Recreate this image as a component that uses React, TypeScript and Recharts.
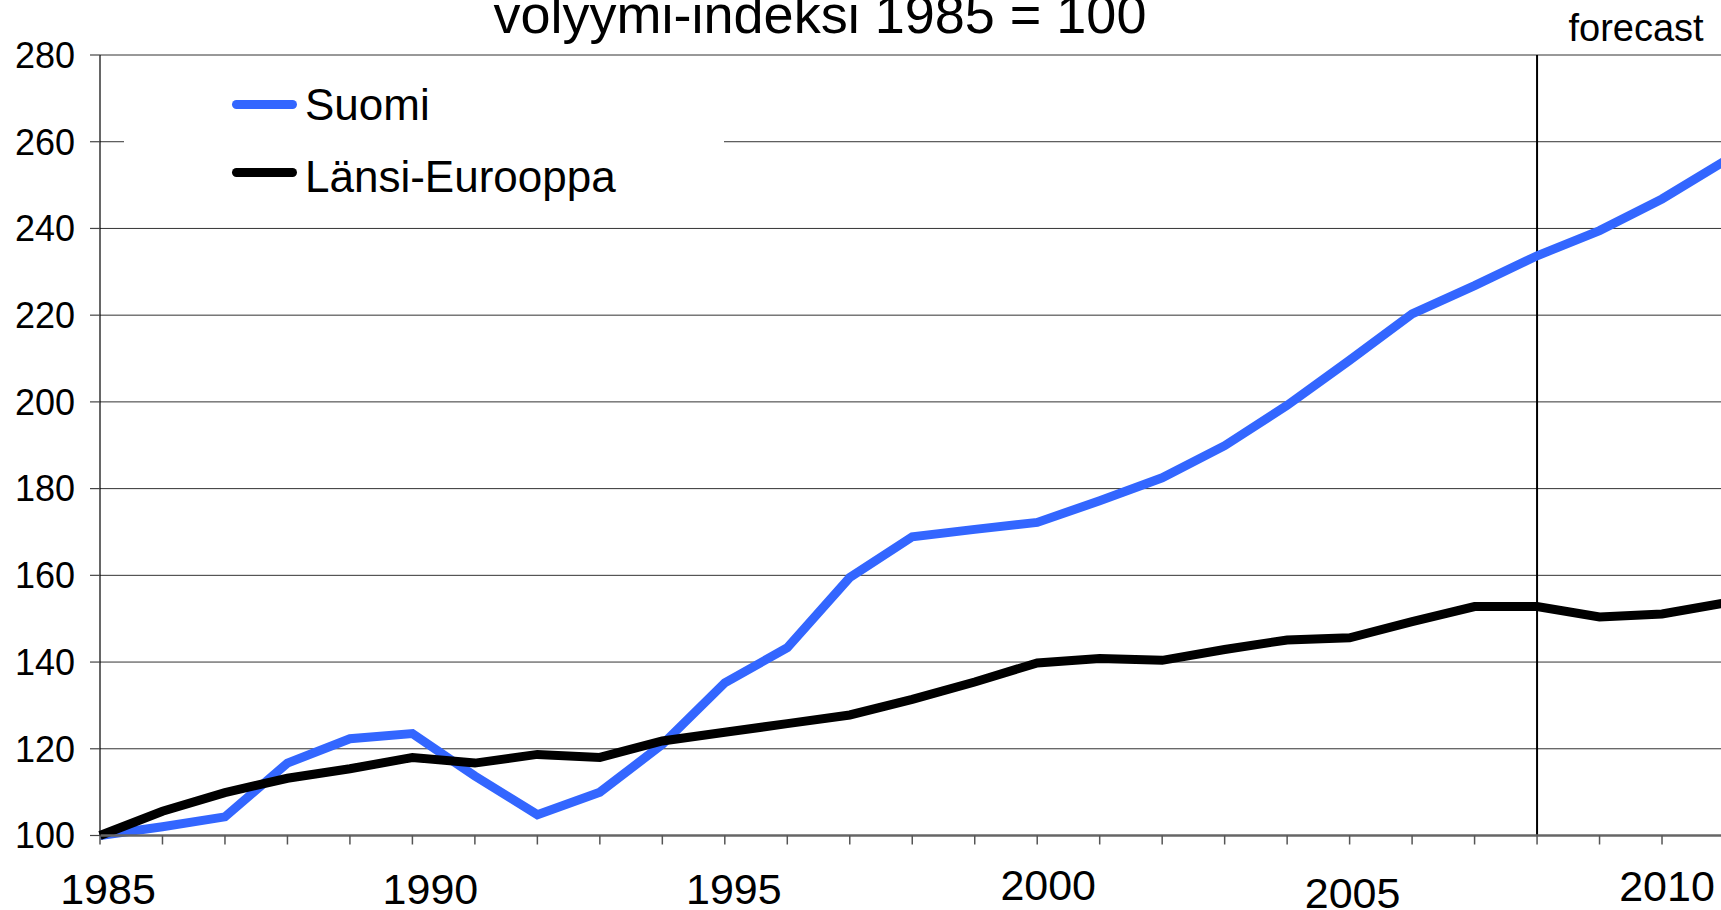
import React from 'react'
import {
  LineChart,
  Line,
  XAxis,
  YAxis,
  CartesianGrid,
  ReferenceLine,
  Legend,
} from 'recharts'

const years = [
  1985, 1986, 1987, 1988, 1989, 1990, 1991, 1992, 1993, 1994, 1995, 1996, 1997, 1998,
  1999, 2000, 2001, 2002, 2003, 2004, 2005, 2006, 2007, 2008, 2009, 2010, 2011,
]

const suomi = [
  100, 102, 104.3, 116.7, 122.3, 123.5, 113.7, 104.8, 110, 121, 135.2, 143.3, 159.5, 168.9,
  170.6, 172.2, 177.2, 182.5, 189.9, 199.2, 209.6, 220.3, 226.8, 233.7, 239.5, 246.8, 255.5,
]

const lansiEurooppa = [
  100, 105.6, 109.9, 113.2, 115.4, 118, 116.7, 118.7, 118, 121.8, 123.8, 125.8, 127.8, 131.4,
  135.4, 139.8, 140.8, 140.4, 142.9, 145.1, 145.6, 149.3, 152.8, 152.8, 150.4, 151.1, 153.6,
]

const yTicks = [100, 120, 140, 160, 180, 200, 220, 240, 260, 280]
const labelYears = [1985, 1990, 1995, 2000, 2005, 2010]
const forecastYear = 2008
const seriesOrder = ['Suomi', 'Länsi-Eurooppa']

const FONT = '"Liberation Sans", Arial, Helvetica, sans-serif'
const BLUE = '#3366ff'

const chartData = years.map((year, i) => ({
  year,
  suomi: suomi[i],
  lansi: lansiEurooppa[i],
}))

// labels in the original sit a little unevenly
const labelDx = [8, 18, 9, 11, 3, 5]
const labelDy = [0, 0, 0, -4, 4, -3]

const YearTick = ({ x, y, payload }: any) => {
  const idx = labelYears.indexOf(payload.value)
  if (idx < 0) return <g />
  return (
    <text
      x={x + labelDx[idx]}
      y={y + 59 + labelDy[idx]}
      textAnchor="middle"
      fontSize={43}
      fontFamily={FONT}
      fill="#000"
    >
      {payload.value}
    </text>
  )
}

const ForecastLabel = (props: any) => {
  const vx = props.viewBox?.x ?? 1537
  return (
    <text x={vx + 99} y={41} textAnchor="middle" fontSize={38} fontFamily={FONT} fill="#000">
      forecast
    </text>
  )
}

const renderLegend = (props: any) => {
  const payload = [...(props.payload ?? [])].sort(
    (a: any, b: any) => seriesOrder.indexOf(a.value) - seriesOrder.indexOf(b.value)
  )
  return (
    <div style={{ position: 'relative', width: 600, height: 140, background: '#fff' }}>
      {payload.map((entry: any, i: number) => (
        <React.Fragment key={`legend-${i}`}>
          <div
            style={{
              position: 'absolute',
              left: 108,
              top: 37.5 + i * 68,
              width: 65,
              height: 9,
              borderRadius: 4.5,
              background: entry.color,
            }}
          />
          <div
            style={{
              position: 'absolute',
              left: 181,
              top: 21 + i * 72,
              fontSize: 44,
              lineHeight: '44px',
              fontFamily: FONT,
              color: '#000',
              whiteSpace: 'nowrap',
            }}
          >
            {entry.value}
          </div>
        </React.Fragment>
      ))}
    </div>
  )
}

export default function App() {
  return (
    <div
      style={{
        position: 'fixed',
        left: 0,
        top: 0,
        width: 1721,
        height: 910,
        overflow: 'hidden',
        background: '#fff',
        fontFamily: FONT,
      }}
    >
      <div
        style={{
          position: 'absolute',
          left: 820,
          top: -13,
          transform: 'translateX(-50%)',
          fontSize: 54,
          lineHeight: '54px',
          whiteSpace: 'nowrap',
          color: '#000',
          zIndex: 2,
        }}
      >
        volyymi-indeksi 1985 = 100
      </div>
      <LineChart
        width={1740}
        height={910}
        data={chartData}
        margin={{ top: 55, right: 15.5, bottom: 0, left: 0 }}
      >
        <CartesianGrid stroke="#333" strokeWidth={1} vertical={false} />
        <XAxis
          dataKey="year"
          type="number"
          domain={[1985, 2011]}
          ticks={years}
          interval={0}
          height={74.5}
          tickSize={9}
          tickMargin={0}
          tick={<YearTick />}
          axisLine={{ stroke: '#666', strokeWidth: 2.5 }}
          tickLine={{ stroke: '#555', strokeWidth: 1.5 }}
        />
        <YAxis
          type="number"
          domain={[100, 280]}
          ticks={yTicks}
          interval={0}
          width={100}
          tickSize={10}
          tickMargin={15}
          tick={{ fontSize: 36, fill: '#000', fontFamily: FONT }}
          axisLine={{ stroke: '#000', strokeWidth: 1.2 }}
          tickLine={{ stroke: '#444', strokeWidth: 1.2 }}
        />
        <ReferenceLine
          x={forecastYear}
          stroke="#000"
          strokeWidth={2}
          label={<ForecastLabel />}
        />
        <Legend
          layout="horizontal"
          verticalAlign="middle"
          align="center"
          content={renderLegend}
          wrapperStyle={{ left: 124, top: 62, width: 600, height: 140 }}
        />
        <Line
          type="linear"
          dataKey="suomi"
          name="Suomi"
          stroke={BLUE}
          strokeWidth={9}
          dot={false}
          activeDot={false}
          isAnimationActive={false}
        />
        <Line
          type="linear"
          dataKey="lansi"
          name="Länsi-Eurooppa"
          stroke="#000"
          strokeWidth={9}
          dot={false}
          activeDot={false}
          isAnimationActive={false}
        />
      </LineChart>
    </div>
  )
}
